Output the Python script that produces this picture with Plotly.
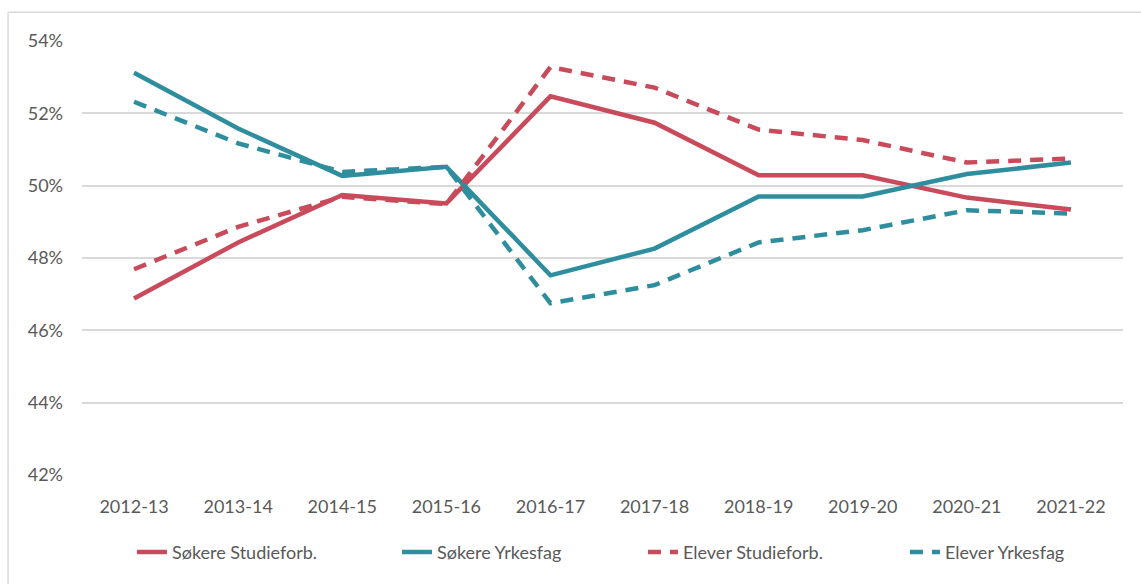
import plotly.graph_objects as go

years = ["2012-13", "2013-14", "2014-15", "2015-16", "2016-17",
         "2017-18", "2018-19", "2019-20", "2020-21", "2021-22"]

sokere_studieforb = [46.88, 48.43, 49.74, 49.51, 52.47, 51.74, 50.29, 50.29, 49.67, 49.34]
sokere_yrkesfag = [53.12, 51.58, 50.27, 50.52, 47.52, 48.26, 49.70, 49.70, 50.32, 50.64]
elever_studieforb = [47.69, 48.86, 49.69, 49.49, 53.28, 52.71, 51.55, 51.26, 50.64, 50.75]
elever_yrkesfag = [52.32, 51.17, 50.38, 50.52, 46.75, 47.25, 48.43, 48.77, 49.32, 49.23]

series_names = ["Søkere Studieforb.", "Søkere Yrkesfag", "Elever Studieforb.", "Elever Yrkesfag"]
y_ticks = [42, 44, 46, 48, 50, 52, 54]
y_tick_text = ["42%", "44%", "46%", "48%", "50%", "52%", "54%"]

RED = "#C94B5B"
TEAL = "#2E8E9E"
FONT = "Lato"
TXT = "#595959"

fig = go.Figure()
styles = [(RED, "solid"), (TEAL, "solid"), (RED, "13px,9px"), (TEAL, "13px,9px")]
leg_widths = [220, 201, 217, 160]
for name, vals, (col, dash), lw in zip(series_names,
                                       [sokere_studieforb, sokere_yrkesfag, elever_studieforb, elever_yrkesfag],
                                       styles, leg_widths):
    fig.add_trace(go.Scatter(x=years, y=vals, mode="lines", name=name, legendwidth=lw,
                             line=dict(color=col, width=4.5, dash=dash)))

fig.update_layout(
    width=1141, height=584,
    margin=dict(l=82, r=18, t=41, b=109, autoexpand=False),
    paper_bgcolor="white", plot_bgcolor="white",
    font=dict(family=FONT, size=18, color=TXT),
    showlegend=True,
    legend=dict(orientation="h", x=0.048, xanchor="left", y=-0.178, yanchor="middle",
                font=dict(family=FONT, size=18, color=TXT), traceorder="normal"),
    xaxis=dict(type="category", range=[-0.5, 9.5], showgrid=False, zeroline=False,
               showline=False, ticks="", ticklabelstandoff=19,
               tickfont=dict(family=FONT, size=18, color=TXT)),
    yaxis=dict(range=[42, 54], tickvals=y_ticks, ticktext=y_tick_text,
               showgrid=True, gridcolor="#D9D9D9", gridwidth=1.5, zeroline=False,
               showline=False, ticks="", ticklabelstandoff=18,
               tickfont=dict(family=FONT, size=18, color=TXT)),
    shapes=[
        dict(type="line", xref="paper", yref="paper", x0=-0.071, x1=1.05, y0=1.066, y1=1.066,
             line=dict(color="#D9D9D9", width=1.5)),
        dict(type="line", xref="paper", yref="paper", x0=-0.071, x1=-0.071, y0=1.066, y1=-0.35,
             line=dict(color="#D9D9D9", width=1.5)),
    ],
)

fig.write_html("out.html", config={"displayModeBar": False},
               post_script="document.body.style.margin='0';")
